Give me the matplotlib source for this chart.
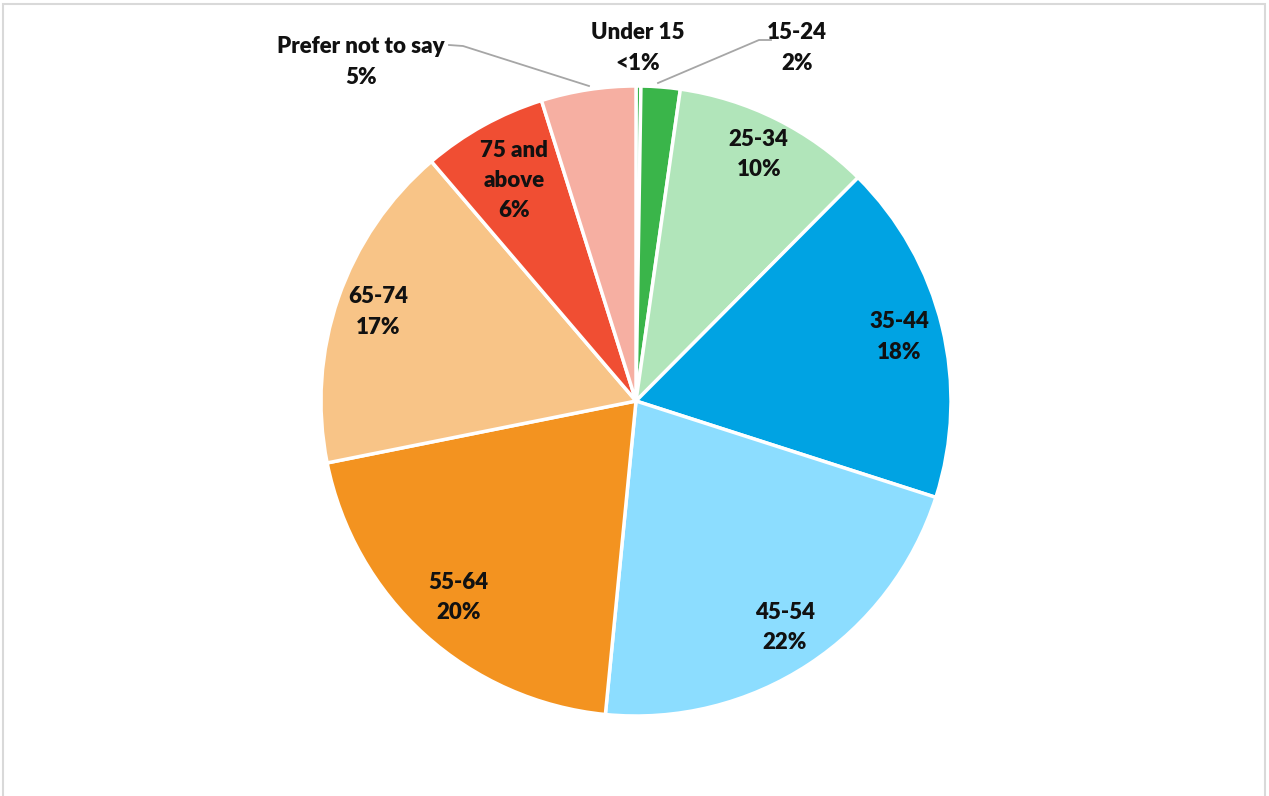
import numpy as np
import matplotlib.pyplot as plt
from matplotlib.patches import Rectangle

# age group shares (%), clockwise from 12 o'clock
labels = ['Under 15', '15-24', '25-34', '35-44', '45-54', '55-64', '65-74',
          '75 and\nabove', 'Prefer not to say']
pct_text = ['<1%', '2%', '10%', '18%', '22%', '20%', '17%', '6%', '5%']
values = [0.25, 2.0, 10.2, 17.5, 21.6, 20.3, 16.9, 6.4, 4.85]
colors = ['#3AB54A', '#3AB54A', '#B1E5BA', '#00A3E3', '#8CDDFF',
          '#F39320', '#F8C487', '#F04E33', '#F6AFA2']

plt.rcParams['font.family'] = ['Lato', 'DejaVu Sans']

W, H = 1269, 796
fig = plt.figure(figsize=(W / 100, H / 100), dpi=100)

# light frame like the original chart area
fig.patches.append(Rectangle((3 / W, -0.02), 1262 / W, 1.02 - 4 / H,
                             transform=fig.transFigure, fill=False,
                             edgecolor='#D9D9D9', linewidth=1.5))

cx, cy, r = 636, 401, 315
ax = fig.add_axes([(cx - r) / W, (H - cy - r) / H, 2 * r / W, 2 * r / H])

wedges, _ = ax.pie(values, colors=colors, startangle=90, counterclock=False,
                   radius=1, wedgeprops=dict(edgecolor='white', linewidth=2.5))
ax.set_xlim(-1, 1)
ax.set_ylim(-1, 1)
ax.axis('off')

fs = 16
ls = 1.55
# inside labels placed along the wedge bisector
inner_dist = {2: 0.875, 3: 0.86, 4: 0.86, 5: 0.84, 6: 0.865, 7: 0.80}
for i, d in inner_dist.items():
    w = wedges[i]
    ang = np.deg2rad((w.theta1 + w.theta2) / 2)
    ax.text(d * np.cos(ang), d * np.sin(ang), labels[i] + '\n' + pct_text[i],
            ha='center', va='center', fontsize=fs, fontweight='heavy',
            linespacing=ls, color='#111111')

# outside labels with leader lines
def px(x, y):
    return (x - cx) / r, (cy - y) / r

outside = {0: (638, 48), 1: (797, 48), 8: (361, 62)}
for i, (x, y) in outside.items():
    tx, ty = px(x, y)
    ax.text(tx, ty, labels[i] + '\n' + pct_text[i], ha='center', va='center',
            fontsize=fs, fontweight='heavy', linespacing=ls, color='#111111',
            clip_on=False)

lc = '#A6A6A6'
for pts in ([(771, 40), (759, 40), (658, 83)],
            [(449, 45), (463, 46), (589, 86)]):
    xs, ys = zip(*[px(*p) for p in pts])
    ax.plot(xs, ys, color=lc, linewidth=1.3, clip_on=False)

fig.savefig('out.png', dpi=100)
